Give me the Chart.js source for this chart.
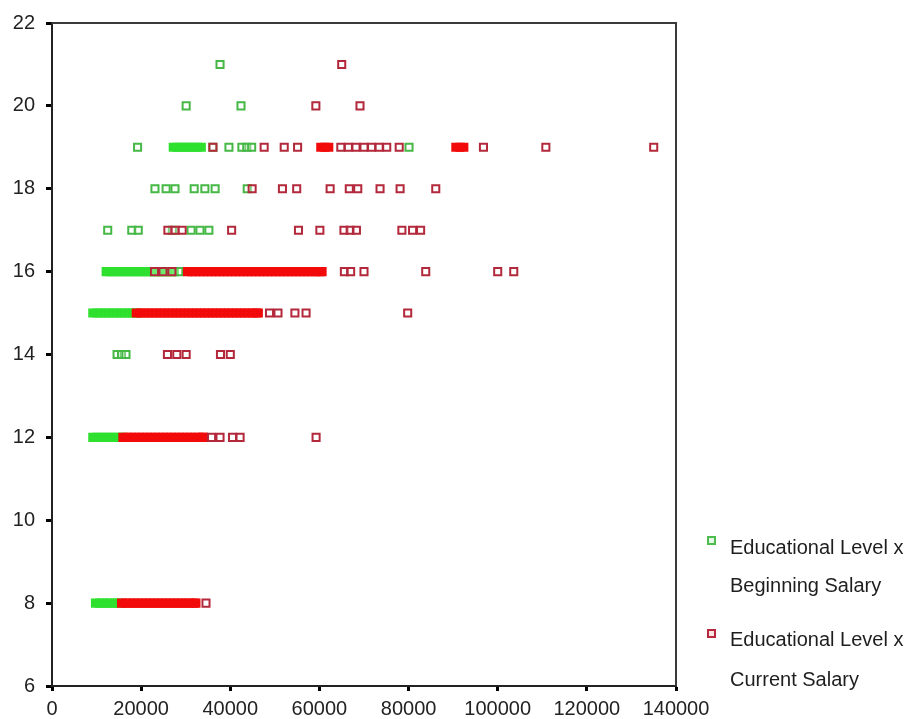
<!DOCTYPE html>
<html>
<head>
<meta charset="utf-8">
<script src="https://cdn.jsdelivr.net/npm/chart.js@4.4.1/dist/chart.umd.min.js"></script>
<style>
  body { margin: 0; background: #fff; }
  #wrap { position: relative; width: 918px; height: 719px; }
  .lg { position: absolute; left: 730px; font: 20px "Liberation Sans", Arial, sans-serif; line-height: 20px; color: #1e1e1e; white-space: nowrap; }
  .mk { position: absolute; left: 707px; width: 5px; height: 5px; border: 2px solid; }
</style>
</head>
<body>
<div id="wrap">
  <canvas id="scatter"></canvas>
  <div class="mk" style="top:536px;border-color:#4cbc4c;background:#e6f8e6"></div>
  <div class="lg" style="top:537px">Educational Level x</div>
  <div class="lg" style="top:575px">Beginning Salary</div>
  <div class="mk" style="top:629px;border-color:#b8283c;background:#fbe4e4"></div>
  <div class="lg" style="top:629px">Educational Level x</div>
  <div class="lg" style="top:669px">Current Salary</div>
</div>
<script>
// educational levels (y) and salaries, per level
var levels = [8, 12, 14, 15, 16, 17, 18, 19, 20, 21];

var begin8  = [9750, 10650, 11550, 12450, 13350, 14250, 15150];
var begin12 = [9150, 10100, 11050, 12000, 12950, 13900, 14850, 15800];
var begin14 = [14600, 15600, 16600];
var begin15 = [9150, 10050, 10950, 11850, 12750, 13650, 14550, 15450, 16350, 17250, 18150, 19050];
var begin16 = [12150, 13050, 13950, 14850, 15750, 16650, 17550, 18450, 19350, 20250, 21150, 22050, 22950, 23850, 24750, 25650, 26550, 27450, 28450];
var begin17 = [12500, 17900, 19350, 27000, 31200, 33200, 35200];
var begin18 = [23100, 25600, 27600, 31900, 34300, 36600, 43800];
var begin19 = [19200, 27200, 28100, 29000, 29900, 30800, 31700, 32600, 33500, 36100, 39700, 42600, 43700, 44800, 80100];
var begin20 = [30100, 42400];
var begin21 = [37700];

var current8  = [15600, 16500, 17400, 18300, 19200, 20100, 21000, 21900, 22800, 23700, 24600, 25500, 26400, 27300, 28200, 29100, 30000, 30900, 31800, 32300, 34550];
var current12 = [15900, 16800, 17700, 18600, 19500, 20400, 21300, 22200, 23100, 24000, 24900, 25800, 26700, 27600, 28500, 29400, 30300, 31200, 32100, 33000, 33900, 34000, 35800, 37700, 40500, 42200, 59250];
var current14 = [25900, 28000, 30100, 37800, 40000];
var current15 = [18900, 19800, 20700, 21600, 22500, 23400, 24300, 25200, 26100, 27000, 27900, 28800, 29700, 30600, 31500, 32400, 33300, 34200, 35100, 36000, 36900, 37800, 38700, 39600, 40500, 41400, 42300, 43200, 44100, 45000, 45900, 46300, 48800, 50700, 54500, 57000, 79800];
var current16 = [23000, 24900, 26900, 30400, 31300, 32200, 33100, 34000, 34900, 35800, 36700, 37600, 38500, 39400, 40300, 41200, 42100, 43000, 43900, 44800, 45700, 46600, 47500, 48400, 49300, 50200, 51100, 52000, 52900, 53800, 54700, 55600, 56500, 57400, 58300, 59200, 60100, 60600, 65600, 67000, 70000, 83850, 100000, 103600];
var current17 = [26000, 27600, 29200, 40300, 55300, 60100, 65500, 66900, 68300, 78500, 80900, 82700];
var current18 = [44900, 51700, 54900, 62400, 66700, 68600, 73600, 78100, 86100];
var current19 = [36100, 47600, 52100, 55100, 60300, 61200, 62100, 64800, 66500, 68200, 70000, 71700, 73400, 75100, 77900, 90600, 91500, 92400, 96800, 110800, 135000];
var current20 = [59200, 69100];
var current21 = [65000];

var beginSalary = [begin8, begin12, begin14, begin15, begin16, begin17, begin18, begin19, begin20, begin21];
var currentSalary = [current8, current12, current14, current15, current16, current17, current18, current19, current20, current21];

function toPoints(lists) {
    var out = [];
    lists.forEach(function (xs, i) {
        xs.forEach(function (x) { out.push({ x: x, y: levels[i] }); });
    });
    return out;
}

// squares packed close together show up as a solid bar
function packed(c) {
    var d = c.dataset.data, p = d[c.dataIndex];
    if (!p) return false;
    for (var j = 0; j < d.length; j++) {
        if (j !== c.dataIndex && d[j].y === p.y && Math.abs(d[j].x - p.x) < 1000) return true;
    }
    return false;
}

var frame = {
    id: 'frame',
    afterDraw: function (chart) {
        var a = chart.chartArea, g = chart.ctx;
        g.save();
        g.strokeStyle = '#3a3a3a';
        g.lineWidth = 2;
        g.beginPath();
        g.moveTo(a.left, a.top);
        g.lineTo(a.right, a.top);
        g.lineTo(a.right, a.bottom);
        g.stroke();
        g.restore();
    }
};

var tickFont = { family: '"Liberation Sans", Arial, sans-serif', size: 20 };

var scatter = new Chart(document.getElementById('scatter'), {
    type: 'scatter',
    data: {
        datasets: [
            {
                label: 'Educational Level x Beginning Salary',
                data: toPoints(beginSalary),
                order: 2,
                pointStyle: 'rect',
                pointRadius: 5,
                pointBorderWidth: 2,
                pointBorderColor: function (c) { return packed(c) ? '#2fe02f' : '#45b845'; },
                pointBackgroundColor: function (c) { return packed(c) ? '#2fe02f' : 'rgba(255,255,255,0.3)'; }
            },
            {
                label: 'Educational Level x Current Salary',
                data: toPoints(currentSalary),
                order: 1,
                pointStyle: 'rect',
                pointRadius: 5,
                pointBorderWidth: 2,
                pointBorderColor: function (c) { return packed(c) ? '#f20a0a' : '#b3283a'; },
                pointBackgroundColor: function (c) { return packed(c) ? '#f20a0a' : 'rgba(255,255,255,0.3)'; }
            }
        ]
    },
    options: {
        responsive: true,
        maintainAspectRatio: false,
        animation: false,
        layout: { padding: { left: 0, top: 15, right: 242, bottom: 0 } },
        plugins: {
            legend: { display: false },
            tooltip: { enabled: false }
        },
        scales: {
            x: {
                type: 'linear',
                min: 0,
                max: 140000,
                afterFit: function (s) { s.height = 33; },
                border: { color: '#222', width: 2 },
                grid: { drawOnChartArea: false, drawTicks: true, tickLength: 5, tickWidth: 3, tickColor: '#000' },
                ticks: {
                    stepSize: 20000,
                    padding: 6,
                    maxRotation: 0,
                    color: '#222',
                    font: tickFont,
                    callback: function (v) { return String(v); }
                }
            },
            y: {
                type: 'linear',
                min: 6,
                max: 22,
                afterFit: function (s) { s.width = 52; },
                border: { color: '#222', width: 2 },
                grid: { drawOnChartArea: false, drawTicks: true, tickLength: 6, tickWidth: 3, tickColor: '#000' },
                ticks: {
                    stepSize: 2,
                    padding: 11,
                    color: '#222',
                    font: tickFont,
                    callback: function (v) { return String(v); }
                }
            }
        }
    },
    plugins: [frame]
});
</script>
</body>
</html>
